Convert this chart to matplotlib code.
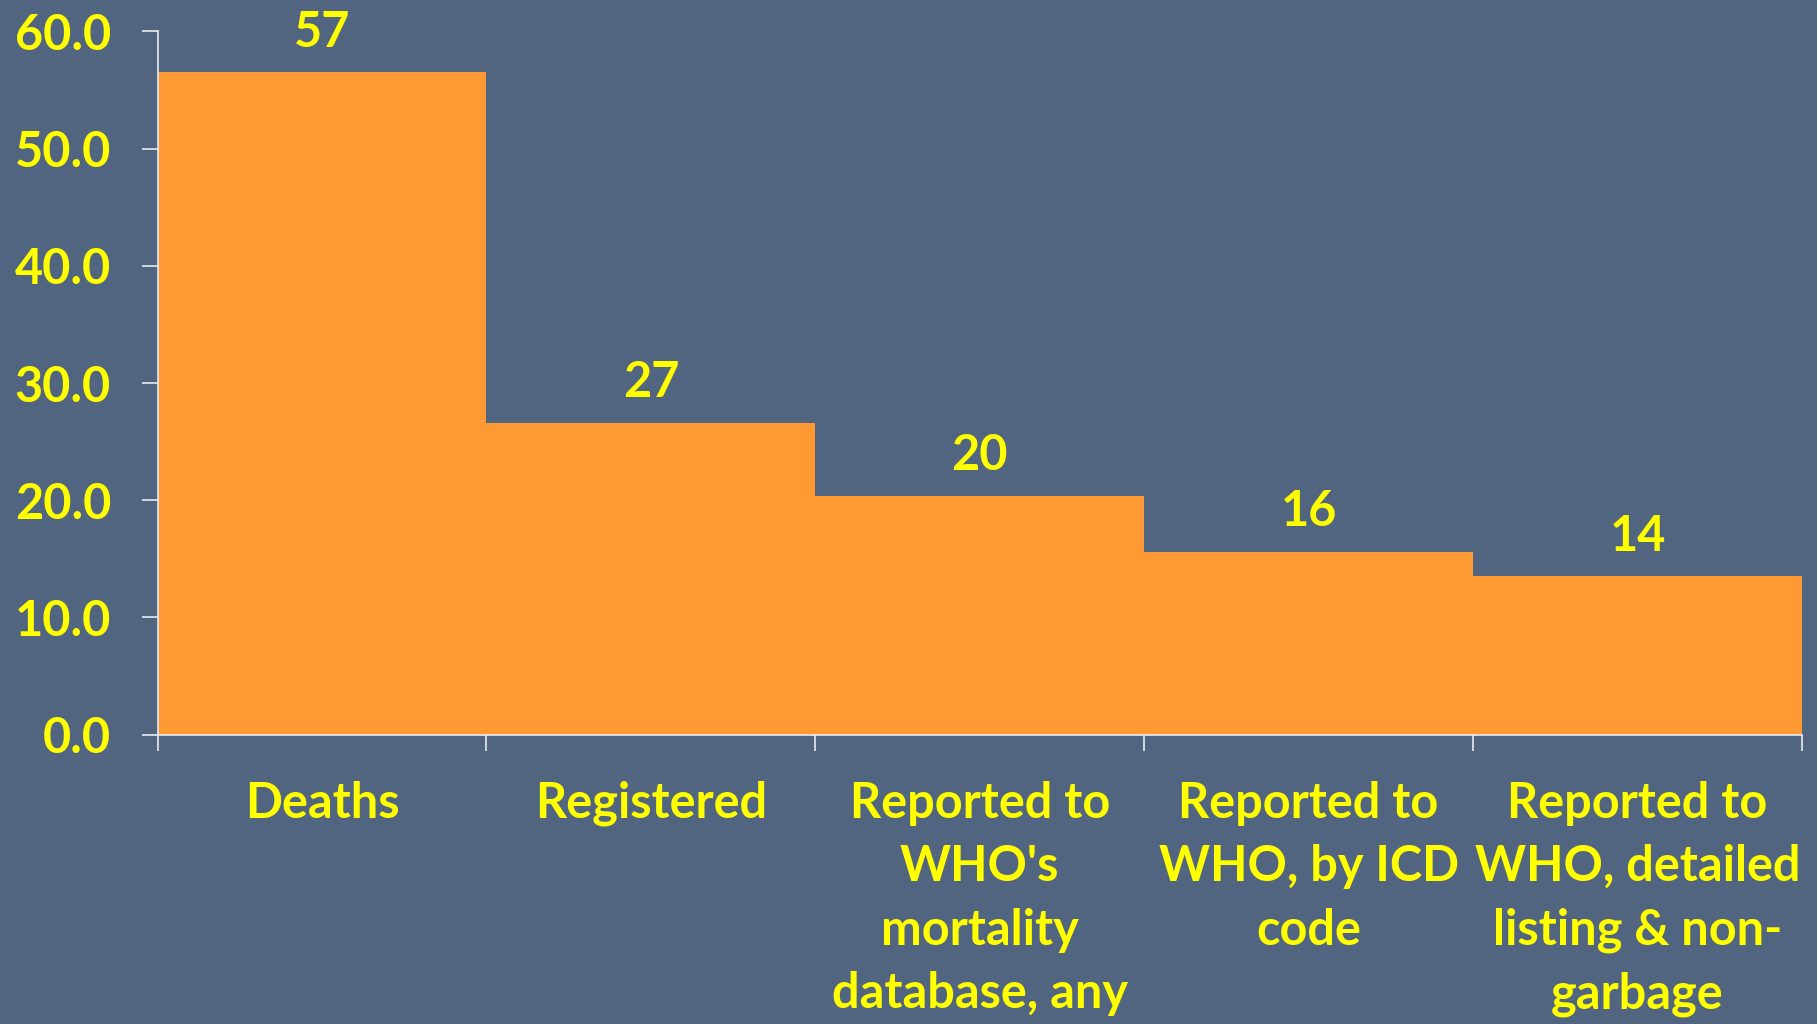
import matplotlib.pyplot as plt
from matplotlib.ticker import FormatStrFormatter

# values
categories = ['Deaths', 'Registered', "Reported to\nWHO's\nmortality\ndatabase, any",
              'Reported to\nWHO, by ICD\ncode',
              'Reported to\nWHO, detailed\nlisting & non-\ngarbage']
values = [56.5, 26.6, 20.4, 15.6, 13.5]
value_labels = ['57', '27', '20', '16', '14']
yticks = [0, 10, 20, 30, 40, 50, 60]

bg = '#526580'
bar_color = '#FF9933'
text_color = '#FFFF00'
line_color = '#E8ECF2'

plt.rcParams['font.family'] = ['Lato', 'DejaVu Sans']

fig = plt.figure(figsize=(18.17, 10.24), dpi=100, facecolor=bg)
ax = fig.add_axes([0.0867, 0.2825, 0.905, 0.6869])
ax.set_facecolor(bg)

x = list(range(len(categories)))
ax.bar(x, values, width=1.0, color=bar_color, zorder=2)

# value labels above each bar
for xi, v, lab in zip(x, values, value_labels):
    ax.annotate(lab, (xi, v), xytext=(0, 29), textcoords='offset points',
                ha='center', va='center', fontsize=35, fontweight='bold',
                color=text_color)

ax.set_xlim(-0.5, len(categories) - 0.5)
ax.set_ylim(0, 60)

# y axis
ax.set_yticks(yticks)
ax.yaxis.set_major_formatter(FormatStrFormatter('%.1f'))
ax.tick_params(axis='y', direction='out', length=11.5, width=1.2, color=line_color,
               pad=22, labelsize=35, labelcolor=text_color)

# x axis: ticks at bar boundaries, labels centred under bars
ax.set_xticks([i - 0.5 for i in range(len(categories) + 1)])
ax.set_xticklabels([])
ax.tick_params(axis='x', which='major', direction='out', length=11.5, width=1.2,
               color=line_color)
ax.set_xticks(x, minor=True)
ax.set_xticklabels(categories, minor=True)
ax.tick_params(axis='x', which='minor', length=0, pad=33, labelsize=35,
               labelcolor=text_color)
for t in ax.get_xticklabels(minor=True) + ax.get_yticklabels():
    t.set_fontweight('bold')
for t in ax.get_xticklabels(minor=True):
    t.set_linespacing(1.5)

for side in ['top', 'right']:
    ax.spines[side].set_visible(False)
for side in ['left', 'bottom']:
    ax.spines[side].set_color(line_color)
    ax.spines[side].set_linewidth(1.2)
    ax.spines[side].set_zorder(3)

fig.savefig('out.png', dpi=100, facecolor=bg)
